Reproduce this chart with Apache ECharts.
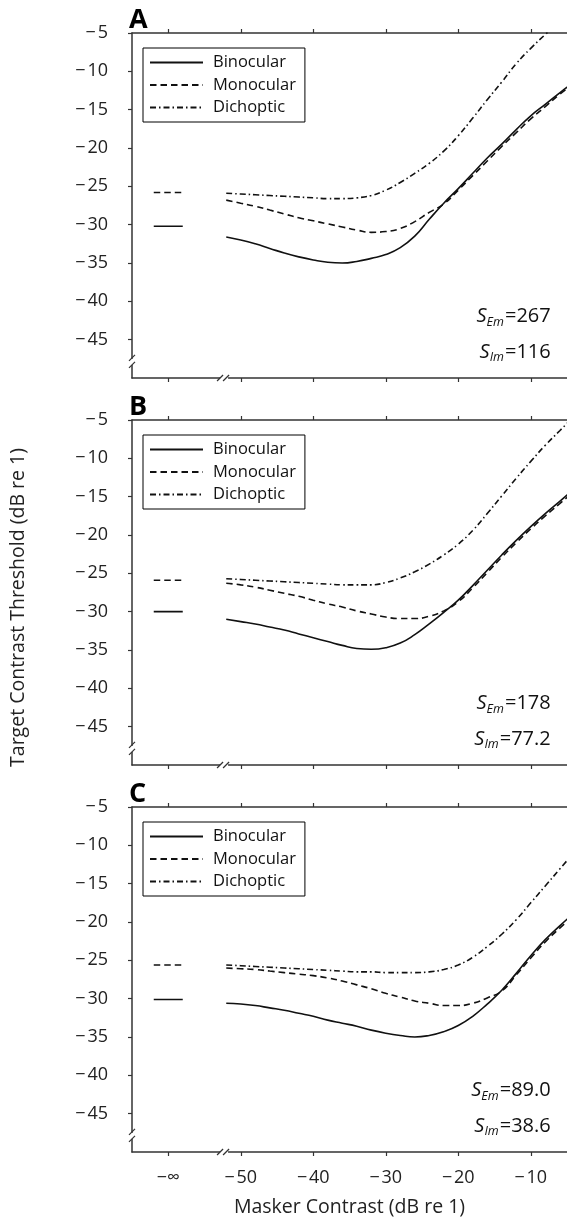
<!DOCTYPE html>
<html><head><meta charset="utf-8">
<script src="https://cdn.jsdelivr.net/npm/echarts@6/dist/echarts.min.js"></script>
<style>html,body{margin:0;padding:0;background:#fff}#c{width:567px;height:1218px}</style>
</head><body><div id="c"></div>
<script>
// ---- data ----
const panelLabels = ['A', 'B', 'C'];
const maskerX = [-52, -50, -48, -46, -44, -42, -40, -38, -36, -34, -32, -30, -28, -26, -24, -22, -20, -18, -16, -14, -12, -10, -8, -6, -4];
const binocularA = [-31.6, -32.0, -32.5, -33.1, -33.7, -34.2, -34.6, -34.9, -35.0, -34.8, -34.4, -33.9, -33.0, -31.5, -29.3, -27.2, -25.3, -23.3, -21.3, -19.5, -17.6, -15.8, -14.3, -12.8, -11.4];
const monocularA = [-26.8, -27.2, -27.6, -28.1, -28.6, -29.1, -29.5, -29.9, -30.3, -30.7, -31.0, -30.9, -30.5, -29.6, -28.4, -27.3, -25.5, -23.6, -21.7, -19.8, -18.0, -16.2, -14.6, -13.0, -11.6];
const dichopticA = [-25.9, -26.0, -26.1, -26.2, -26.3, -26.4, -26.5, -26.6, -26.6, -26.5, -26.2, -25.5, -24.5, -23.3, -22.0, -20.4, -18.4, -16.1, -13.7, -11.4, -9.0, -7.0, -5.2, -3.5, -1.8];
const binocularB = [-31.0, -31.3, -31.6, -32.0, -32.4, -32.9, -33.4, -33.9, -34.4, -34.8, -34.9, -34.7, -34.1, -33.0, -31.6, -30.1, -28.5, -26.6, -24.6, -22.6, -20.7, -18.9, -17.2, -15.6, -14.0];
const monocularB = [-26.3, -26.5, -26.8, -27.2, -27.6, -28.0, -28.5, -29.0, -29.4, -29.9, -30.3, -30.7, -30.9, -30.9, -30.6, -29.9, -28.7, -26.9, -24.9, -22.9, -21.0, -19.2, -17.5, -15.9, -14.3];
const dichopticB = [-25.7, -25.8, -25.9, -26.0, -26.1, -26.2, -26.3, -26.4, -26.5, -26.5, -26.5, -26.2, -25.6, -24.8, -23.8, -22.6, -21.2, -19.4, -17.2, -14.9, -12.6, -10.4, -8.3, -6.4, -4.5];
const binocularC = [-30.6, -30.7, -30.9, -31.2, -31.5, -31.9, -32.3, -32.8, -33.2, -33.6, -34.1, -34.5, -34.8, -35.0, -34.8, -34.3, -33.5, -32.3, -30.7, -28.9, -26.7, -24.4, -22.3, -20.5, -18.8];
const monocularC = [-26.0, -26.1, -26.2, -26.4, -26.6, -26.8, -27.0, -27.3, -27.7, -28.2, -28.7, -29.3, -29.8, -30.3, -30.6, -30.9, -30.9, -30.6, -29.9, -29.0, -26.9, -24.7, -22.6, -20.8, -19.1];
const dichopticC = [-25.6, -25.7, -25.8, -25.9, -26.0, -26.1, -26.2, -26.3, -26.4, -26.5, -26.5, -26.6, -26.6, -26.6, -26.5, -26.2, -25.6, -24.6, -23.2, -21.6, -19.7, -17.5, -15.3, -13.1, -10.9];
const infX = [-62, -58];
const infMonocular = [-25.8, -25.9, -25.6];
const infBinocular = [-30.2, -30.0, -30.1];
const sEmValues = ['267', '178', '89.0'];
const sImValues = ['116', '77.2', '38.6'];
const xTickValues = [-60, -50, -40, -30, -20, -10];
const yTickValues = [-45, -40, -35, -30, -25, -20, -15, -10, -5];
const seriesNames = ['Binocular', 'Monocular', 'Dichoptic'];
const panelData = [
  [binocularA, monocularA, dichopticA],
  [binocularB, monocularB, dichopticB],
  [binocularC, monocularC, dichopticC]
];

// ---- layout / style ----
const FONT = '"Open Sans", "Noto Sans", sans-serif';
const gridTops = [33, 420, 807];
const gridH = 345, gridLeft = 132, gridW = 435;
const AX = '#333';
const LINE = '#111';
const lineTypes = ['solid', [6.5, 4], [6, 3, 1.5, 3]];
const minus = v => (v < 0 ? '\u2212\u200a' : '') + Math.abs(v);

const chart = echarts.init(document.getElementById('c'), null, {renderer: 'canvas'});

const grid = [], xAxis = [], yAxis = [], series = [], legend = [];
for (let i = 0; i < 3; i++) {
  grid.push({left: gridLeft, top: gridTops[i], width: gridW, height: gridH, containLabel: false});
  const axLine = {onZero: false, lineStyle: {color: AX, width: 1.5}};
  const tick = {show: true, inside: false, length: 4, customValues: xTickValues, lineStyle: {color: AX, width: 1.2}};
  xAxis.push({
    gridIndex: i, type: 'value', min: -65, max: -5, interval: 5, position: 'bottom',
    axisLine: axLine, axisTick: tick, splitLine: {show: false},
    axisLabel: {show: i === 2, customValues: xTickValues, margin: 17, fontSize: 18, color: '#222', fontFamily: FONT,
      formatter: v => (v === -60 ? '\u2212\u221e' : minus(v))},
    name: i === 2 ? 'Masker Contrast (dB re 1)' : '', nameLocation: 'middle', nameGap: 45,
    nameTextStyle: {fontSize: 19.5, color: '#222', fontFamily: FONT}
  });
  xAxis.push({
    gridIndex: i, type: 'value', min: -65, max: -5, interval: 5, position: 'top',
    axisLine: axLine, axisTick: tick, splitLine: {show: false}, axisLabel: {show: false}
  });
  yAxis.push({
    gridIndex: i, type: 'value', min: -50, max: -5, interval: 5, position: 'left',
    axisLine: axLine,
    axisTick: {show: true, inside: false, length: 4, customValues: yTickValues, lineStyle: {color: AX, width: 1.2}},
    axisLabel: {customValues: yTickValues, margin: 24, fontSize: 18, color: '#222', fontFamily: FONT,
      formatter: v => (v === -50 ? '' : minus(v))},
    splitLine: {show: false}
  });
  for (let k = 0; k < 3; k++) {
    series.push({
      name: seriesNames[k], type: 'line', xAxisIndex: 2 * i, yAxisIndex: i,
      data: maskerX.map((x, j) => [x, panelData[i][k][j]]),
      smooth: 0.5, symbol: 'none', clip: true, z: 3 + (2 - k), color: LINE,
      lineStyle: {color: LINE, width: 1.6, type: lineTypes[k]}
    });
  }
  series.push({
    type: 'line', xAxisIndex: 2 * i, yAxisIndex: i, symbol: 'none', silent: true,
    data: infX.map(x => [x, infMonocular[i]]), lineStyle: {color: LINE, width: 1.6, type: [6.5, 4]}
  });
  series.push({
    type: 'line', xAxisIndex: 2 * i, yAxisIndex: i, symbol: 'none', silent: true,
    data: infX.map(x => [x, infBinocular[i]]), lineStyle: {color: LINE, width: 1.6, type: 'solid'}
  });
  // axis break marks
  series.push({
    type: 'custom', xAxisIndex: 2 * i, yAxisIndex: i, clip: false, silent: true, z: 20,
    data: [[-52.3, -50, 0], [-65, -47.9, 1]],
    renderItem: (params, api) => {
      const p = api.coord([api.value(0), api.value(1)]);
      const st = {stroke: AX, lineWidth: 1.2};
      if (api.value(2) === 0) {
        return {type: 'group', children: [
          {type: 'line', shape: {x1: p[0] - 4, y1: p[1], x2: p[0] + 4, y2: p[1]}, style: {stroke: '#fff', lineWidth: 3}},
          {type: 'line', shape: {x1: p[0] - 7, y1: p[1] + 3, x2: p[0] - 1, y2: p[1] - 3}, style: st},
          {type: 'line', shape: {x1: p[0] - 1, y1: p[1] + 3, x2: p[0] + 5, y2: p[1] - 3}, style: st}
        ]};
      }
      return {type: 'group', children: [
        {type: 'line', shape: {x1: p[0], y1: p[1] - 3, x2: p[0], y2: p[1] + 3}, style: {stroke: '#fff', lineWidth: 3}},
        {type: 'line', shape: {x1: p[0] - 3, y1: p[1] - 1, x2: p[0] + 3, y2: p[1] - 7}, style: st},
        {type: 'line', shape: {x1: p[0] - 3, y1: p[1] + 6, x2: p[0] + 3, y2: p[1]}, style: st}
      ]};
    }
  });
  legend.push({
    data: seriesNames, orient: 'vertical', left: 143, top: gridTops[i] + 15,
    borderColor: '#000', borderWidth: 1, borderRadius: 0, padding: [6, 9, 6, 6],
    itemWidth: 53, itemHeight: 14, itemGap: 5.5, selectedMode: false,
    itemStyle: {opacity: 0},
    textStyle: {fontSize: 16.5, color: '#111', fontFamily: FONT, padding: [0, 0, 0, 5]}
  });
}

chart.setOption({
  backgroundColor: '#fff', animation: false,
  grid, xAxis, yAxis, series, legend
});

// text annotations placed through the axes
const graphic = [];
for (let i = 0; i < 3; i++) {
  const pL = chart.convertToPixel({gridIndex: i}, [-65, -5]);
  graphic.push({type: 'text', x: pL[0] - 3, y: pL[1] - 13, style: {text: panelLabels[i], font: 'bold 27px ' + FONT, fill: '#000', align: 'left', verticalAlign: 'middle'}, z: 50});
  const rows = [['Em', sEmValues[i], -42.0], ['Im', sImValues[i], -46.6]];
  rows.forEach(r => {
    const p = chart.convertToPixel({gridIndex: i}, [-7.25, r[2]]);
    graphic.push({type: 'text', x: p[0], y: p[1], z: 50, style: {
      text: '{s|S}{sub|' + r[0] + '}{n|=' + r[1] + '}', align: 'right', verticalAlign: 'middle',
      rich: {
        s: {fontSize: 20, fontStyle: 'italic', fontFamily: FONT, fill: '#111'},
        sub: {fontSize: 12.5, fontStyle: 'italic', fontFamily: FONT, fill: '#111', padding: [12, 1, 0, 0]},
        n: {fontSize: 20, fontFamily: FONT, fill: '#111'}
      }
    }});
  });
}
const pTop = chart.convertToPixel({gridIndex: 0}, [-65, -5]);
const pBot = chart.convertToPixel({gridIndex: 2}, [-65, -50]);
graphic.push({type: 'text', x: 18, y: (pTop[1] + pBot[1]) / 2 + 15, rotation: Math.PI / 2, z: 50,
  style: {text: 'Target Contrast Threshold (dB re 1)', font: '19.5px ' + FONT, fill: '#222', align: 'center', verticalAlign: 'middle'}});
chart.setOption({graphic});
</script></body></html>
